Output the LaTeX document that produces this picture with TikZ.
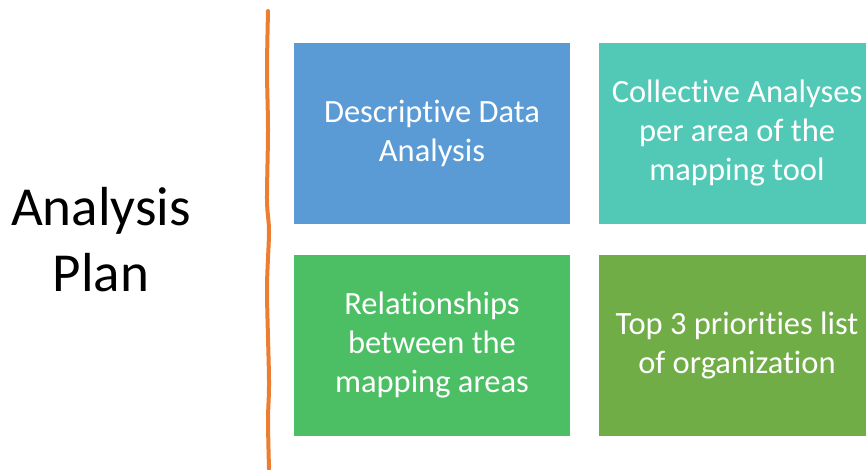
\documentclass[tikz,border=0pt]{standalone}
\usepackage{fontspec}
\setmainfont[Ligatures={NoCommon,NoRare},Contextuals=NoAlternate,RawFeature=-clig]{Carlito}
\definecolor{descblue}{HTML}{5B9BD5}
\definecolor{collteal}{HTML}{52C9B6}
\definecolor{relgreen}{HTML}{4CBF64}
\definecolor{topgreen}{HTML}{70AD47}
\definecolor{lineorange}{HTML}{ED7D31}
\begin{document}
\begin{tikzpicture}
  [x=1pt,y=-1pt,box/.style={rectangle,minimum width=276pt,minimum height=181pt,
   inner sep=0pt,align=center,text=white,font=\fontsize{32.5}{39}\selectfont}]
  \useasboundingbox (0,0) rectangle (866,469);
  \node (plan) at (101,240) [align=center,font=\fontsize{55}{66}\selectfont] {Analysis\\Plan};
  \node[box,fill=descblue] (desc) at (432,133.5) {Descriptive Data\\Analysis};
  \node[box,fill=collteal] (coll) at (737,133.5) {Collective Analyses\\per area of the\\mapping tool};
  \node[box,fill=relgreen] (rel) at (432,345.5) {Relationships\\between the\\mapping areas};
  \node[box,fill=topgreen] (top) at (737,345.5) {Top 3 priorities list\\of organization};
  \draw[lineorange,line width=4pt,line cap=round] plot[smooth] coordinates
    {(268,11) (267,70) (268,130) (267,200) (269,232) (267,290) (269,380) (268,420) (269,469)};

\end{tikzpicture}
\end{document}
